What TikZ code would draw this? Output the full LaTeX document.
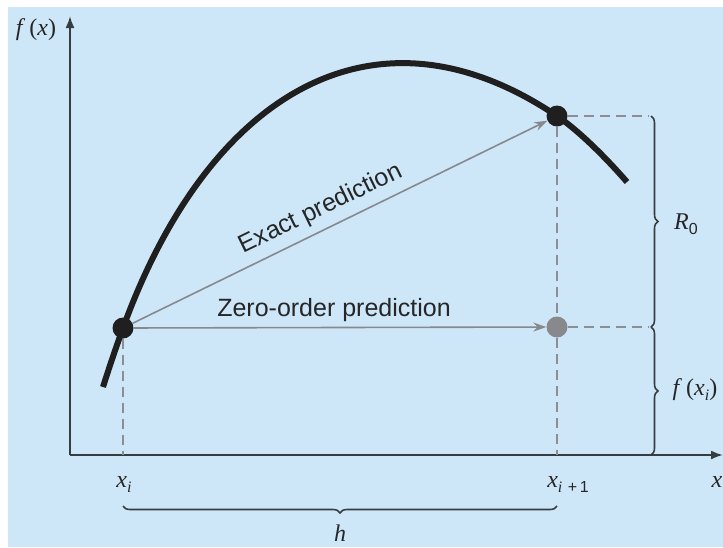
\documentclass[tikz,border=0pt]{standalone}
\usepackage{fontspec}
\setsansfont{Liberation Sans}
\newfontfamily\tms{Liberation Serif}
\newcommand{\mysub}[1]{\raisebox{-5pt}{\fontsize{16}{16}\selectfont #1}}
\newcommand{\iv}[1]{\textit{#1}}
\usetikzlibrary{arrows.meta,decorations.pathreplacing,calc}
\definecolor{bg}{RGB}{205,231,249}
\definecolor{axisc}{RGB}{55,60,65}
\definecolor{grayc}{RGB}{135,137,140}
\definecolor{dashc}{RGB}{140,142,146}
\begin{document}
\begin{tikzpicture}[x=1pt,y=-1pt,
  dot/.style={circle,fill=black!88,inner sep=0pt,minimum size=21pt},
  graydot/.style={circle,fill=grayc,inner sep=0pt,minimum size=21pt},
  axis/.style={draw=axisc,line width=2pt,-{Latex[length=12pt,width=9pt]}},
  garrow/.style={draw=grayc,line width=1.6pt,-{Stealth[length=13pt,width=9pt]}},
  dsh/.style={draw=dashc,line width=1.6pt,dash pattern=on 10pt off 6pt},
  brc/.style={draw=axisc,line width=1.6pt,decorate,decoration={brace,amplitude=7pt}},
  mlab/.style={font=\tms\fontsize{24}{26}\selectfont,inner sep=0pt,text=black!85},
  tlab/.style={font=\sffamily\fontsize{25}{27}\selectfont,inner sep=0pt,text=black!85}]
\useasboundingbox (0,0) rectangle (723,547);
\fill[white] (0,0) rectangle (723,547);
\fill[bg] (8,7) rectangle (723,547);
% axes
\coordinate (O) at (70,455);
\coordinate (Ytop) at (70,16);
\coordinate (Xend) at (723,455);
\draw[axis] (O) -- (Ytop);
\draw[axis] (O) -- (Xend);
% curve
\draw[line width=6pt,black!88,line cap=butt]
 (103,387) .. controls (109,368) and (116.2,346.8) .. (123,328)
 .. controls (208.5,93) and (374.6,-7) .. (557,116)
 .. controls (581.9,132.8) and (610.6,163.1) .. (627,182);
% points
\node[dot] (A) at (123,328) {};
\node[dot] (B) at (557,116) {};
\node[graydot] (C) at (557,327) {};
% dashed guides
\coordinate (Ax) at (123,455);
\coordinate (Bx) at (557,455);
\coordinate (Br) at (648,116);
\coordinate (Cr) at (648,327);
\draw[dsh] (A) -- (Ax);
\draw[dsh] (B) -- (C);
\draw[dsh] (C) -- (Bx);
\draw[dsh] (B) -- (Br);
\draw[dsh] (C) -- (Cr);
% arrows
\draw[garrow] (A) -- (B);
\draw[garrow] (A) -- (C);
% braces
\coordinate (R1) at (651,116);
\coordinate (R2) at (651,327);
\coordinate (R3) at (651,455);
\draw[brc] (R1) -- (R2);
\draw[brc] (R2) -- (R3);
\coordinate (H1) at (123,506);
\coordinate (H2) at (557,506);
\draw[brc] (H2) -- (H1);
% labels
\node[mlab] (fx) at (36,30) {\iv{f}\,(\iv{x})};
\node[mlab] (xi) at (124,484) {\iv{x}\mysub{\iv{i}}};
\node[mlab] (xip) at (568,484) {\iv{x}\mysub{\iv{i}\,\sffamily\,+\,1}};
\node[mlab] (xl) at (717,482) {\iv{x}};
\node[mlab] (R0) at (686,224) {\iv{R}\mysub{\sffamily 0}};
\node[mlab] (fxi) at (695,390) {\iv{f}\,(\iv{x}\mysub{\iv{i}})};
\node[mlab] (h) at (340,533) {\iv{h}};
\node[tlab] (zero) at (334,310) {Zero-order prediction};
\node[tlab,rotate=25.9] (exact) at (321,209) {Exact prediction};
\end{tikzpicture}
\end{document}
